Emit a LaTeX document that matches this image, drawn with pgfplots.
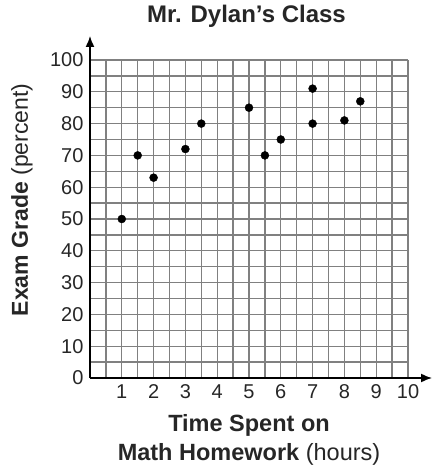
\documentclass[border=0pt]{standalone}
\usepackage{fontspec}
\setmainfont{Liberation Sans}
\usepackage{pgfplots}
\pgfplotsset{compat=1.18}
\usetikzlibrary{arrows.meta}
\begin{document}
\begin{tikzpicture}[x=1pt,y=1pt]
\useasboundingbox (-90,-93) rectangle (345,378);
\begin{axis}[
  at={(0,0)}, anchor=south west,
  scale only axis, width=318pt, height=318pt,
  xmin=0, xmax=10, ymin=0, ymax=100,
  xtick={1,...,10}, ytick={0,10,...,100},
  minor xtick={0.5,1.5,...,9.5}, minor ytick={5,15,...,95},
  grid=both,
  major grid style={draw=black!50, line width=1.3pt},
  minor grid style={draw=black!50, line width=1.3pt},
  major tick length=0pt, minor tick length=0pt,
  axis lines=left,
  axis line style={line width=1.5pt, -{Latex[length=11pt,width=9pt]}, shorten >=-24pt},
  /pgf/number format/assume math mode=true,
  ticklabel style={font=\fontsize{20}{22}\selectfont, text=black!85},
  yticklabel style={xshift=-3pt},
  xticklabel style={yshift=-3pt},
  clip=false,
  title={\textbf{Mr. Dylan’s Class}},
  title style={at={(axis description cs:0.492,1.12)}, anchor=center, font=\fontsize{24}{26}\selectfont, text=black!85},
  xlabel={\textbf{Time Spent on}\\\textbf{Math Homework} (hours)},
  xlabel style={at={(axis description cs:0.5,-0.195)}, anchor=center, align=center, font=\fontsize{23.5}{29}\selectfont, text=black!85},
  ylabel={\textbf{Exam Grade} (percent)},
  ylabel style={at={(axis description cs:-0.214,0.56)}, anchor=center, rotate=0, font=\fontsize{23}{25}\selectfont, text=black!85},
]
\addplot[only marks, mark=*, mark size=4pt, black] coordinates {
  (1,50) (1.5,70) (2,63) (3,72) (3.5,80) (5,85) (5.5,70) (6,75) (7,91) (7,80) (8,81) (8.5,87)
};
\end{axis}
\end{tikzpicture}
\end{document}
